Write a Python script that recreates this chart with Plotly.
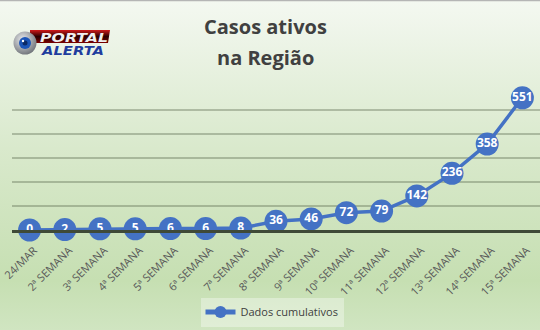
import base64
import plotly.graph_objects as go

categories = ["24/MAR", "2ª SEMANA", "3ª SEMANA", "4ª SEMANA", "5ª SEMANA", "6ª SEMANA",
              "7ª SEMANA", "8ª SEMANA", "9ª SEMANA", "10ª SEMANA", "11ª SEMANA",
              "12ª SEMANA", "13ª SEMANA", "14ª SEMANA", "15ª SEMANA"]
values = [0, 2, 5, 5, 6, 6, 8, 36, 46, 72, 79, 142, 236, 358, 551]
series_name = "Dados cumulativos"
title_lines = ["Casos ativos", "na Região"]

W, H = 540, 330
L, R, T, B = 12, 0, 86, 100
PW, PH = W - L - R, H - T - B


def px(x):
    return (x - L) / PW


def py(y):
    return (H - B - y) / PH


svg = f'''<svg xmlns="http://www.w3.org/2000/svg" width="{W}" height="{H}" viewBox="0 0 {W} {H}" preserveAspectRatio="none">
<defs><linearGradient id="g" x1="0" y1="0" x2="0" y2="1">
<stop offset="0" stop-color="#f4f8f1"/>
<stop offset="0.45" stop-color="#d9e9cc"/>
<stop offset="0.85" stop-color="#c6dfb2"/>
<stop offset="1" stop-color="#d0e5c1"/>
</linearGradient>
<radialGradient id="r" cx="0.4" cy="0.35" r="0.7">
<stop offset="0" stop-color="#e8eaec"/><stop offset="1" stop-color="#6d7177"/></radialGradient>
<linearGradient id="b" x1="0" y1="0" x2="0" y2="1">
<stop offset="0" stop-color="#d21a1a"/><stop offset="0.5" stop-color="#2a0000"/><stop offset="1" stop-color="#7a0000"/></linearGradient>
</defs>
<rect x="0" y="0" width="{W}" height="{H}" fill="url(#g)"/>
<line x1="0" y1="0.5" x2="{W}" y2="0.5" stroke="#b5b5b5" stroke-width="1.5"/>
<path d="M30 30 L110 30 L108 43 L30 43 Z" fill="url(#b)"/>
<circle cx="25" cy="43" r="11.5" fill="url(#r)"/>
<circle cx="25" cy="43" r="6" fill="#1c56b8"/>
<circle cx="25" cy="43" r="2.5" fill="#0b2a66"/>
<circle cx="23" cy="41" r="1.2" fill="#ffffff"/>
<text x="74" y="41.5" font-family="DejaVu Sans" font-weight="bold" font-style="italic" font-size="12" fill="#f0f0f0" text-anchor="middle" textLength="68" lengthAdjust="spacingAndGlyphs">PORTAL</text>
<text x="73" y="54.5" font-family="DejaVu Sans" font-weight="bold" font-style="italic" font-size="12.5" fill="#1f3d9e" text-anchor="middle" textLength="62" lengthAdjust="spacingAndGlyphs">ALERTA</text>
</svg>'''
src = "data:image/svg+xml;base64," + base64.b64encode(svg.encode("utf-8")).decode()

blue = "#4472C4"
x_idx = list(range(len(categories)))
tick_pos = [i + 0.12 for i in x_idx]

fig = go.Figure()
fig.add_trace(go.Scatter(
    x=x_idx, y=values, mode="lines+markers", name=series_name,
    line=dict(color=blue, width=3.5),
    marker=dict(size=23, color=blue, line=dict(color=blue, width=0)),
    cliponaxis=False, showlegend=True,
))
fig.add_trace(go.Scatter(
    x=x_idx, y=values, mode="text", text=[str(v) for v in values],
    textposition="middle center",
    textfont=dict(family="Open Sans", size=12, color="white", weight="bold"),
    cliponaxis=False, showlegend=False, hoverinfo="skip",
))

annotations = []
for i, t in enumerate(title_lines):
    annotations.append(dict(
        text=t, xref="paper", yref="paper", x=px(265), y=py(27 + 30 * i),
        xanchor="center", yanchor="middle", showarrow=False,
        font=dict(family="Open Sans", size=20, color="#404040", weight="bold"),
    ))

fig.update_layout(
    width=W, height=H,
    margin=dict(l=L, r=R, t=T, b=B, autoexpand=False),
    paper_bgcolor="rgba(0,0,0,0)", plot_bgcolor="rgba(0,0,0,0)",
    images=[dict(source=src, xref="paper", yref="paper", x=px(0), y=py(0),
                 sizex=W / PW, sizey=H / PH, xanchor="left", yanchor="top",
                 sizing="stretch", layer="below")],
    annotations=annotations,
    xaxis=dict(
        range=[-0.5, len(categories) - 0.5],
        tickmode="array", tickvals=tick_pos, ticktext=categories,
        tickangle=-45, tickfont=dict(family="Open Sans", size=11, color="#595959"),
        ticklabeloverflow="allow", ticklabelstandoff=7, automargin=False,
        showgrid=False, zeroline=False,
        showline=True, linecolor="#3f4a38", linewidth=2.5, ticks="",
    ),
    yaxis=dict(
        range=[0, 600], dtick=100, showticklabels=False, automargin=False,
        showgrid=True, gridcolor="rgba(80,95,70,0.35)", gridwidth=1.5,
        zeroline=False, showline=False, ticks="",
    ),
    legend=dict(
        orientation="h", x=px(272), y=py(312), xanchor="center", yanchor="middle",
        bgcolor="rgba(255,255,255,0.35)", borderwidth=0,
        font=dict(family="Open Sans", size=11, color="#404040"),
        itemsizing="constant",
    ),
    showlegend=True,
)

fig.write_html("out.html")
